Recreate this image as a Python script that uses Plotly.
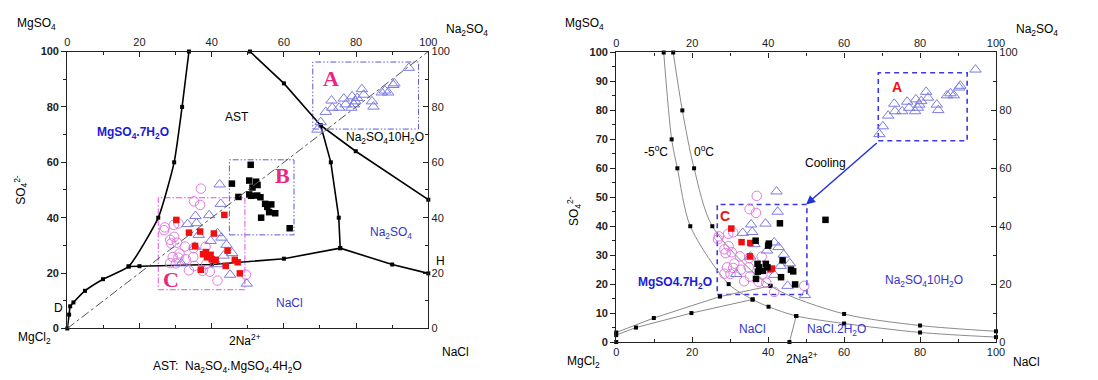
import plotly.graph_objects as go

W, H = 1098, 380

# ---------------- data ----------------
# left diagram phase boundaries
L1_x = [33.7, 31.8, 29.6, 25.2, 17.0, 9.9, 4.9, 1.7, 0.8, 0.5, 0.0]
L1_y = [100, 80, 60, 40, 22.4, 17.8, 13.6, 9.4, 8.0, 5.0, 0.0]
L2_x = [17.0, 20, 40, 60, 75.6, 90, 100]
L2_y = [22.4, 22.5, 23.1, 25.2, 29.0, 23.1, 19.9]
L3_x = [75.6, 75.2, 73.0, 70.2]
L3_y = [29.0, 40, 60, 73.3]
L4_x = [50.6, 60, 70.2, 79.9, 100]
L4_y = [100, 88.5, 73.3, 64.0, 46.5]
diag_x = [0, 100]
diag_y = [0, 100]

# right diagram isotherms / boundaries
R1_x = [12.5, 14.6, 16.1, 19.5, 29.6, 35.9, 40.1, 47.4, 60, 80, 100]   # -5 C
R1_y = [100, 70, 60, 40, 20, 14.7, 12.2, 9.0, 6.4, 3.3, 1.7]
R2_x = [15.0, 17.4, 20.5, 25.3, 40.6, 60, 80, 100]                     # 0 C
R2_y = [100, 80, 60, 40, 19.4, 9.7, 5.7, 3.7]
R3_x = [0, 9.9, 27.3, 40.6]
R3_y = [3.3, 8.3, 15.7, 19.4]
R4_x = [0, 5.2, 19.8, 35.9]
R4_y = [2.4, 5.0, 10.0, 14.7]
R5_x = [47.4, 45.6]
R5_y = [9.0, 0.0]
R0_x = [0]
R0_y = [0]

# sample points (shared between both diagrams)
tri_x = [69.3, 70.2, 71.6, 73.2, 73.4, 75.3, 76.6, 77.1, 78.7, 78.9, 79.4, 79.8, 80.3, 81.6,
         82.1, 84.4, 84.8, 87.1, 88.0, 88.9, 90.3, 90.6, 94.6,
         42.2, 42.5, 35.5, 39.3, 33.3, 35.8, 36.4, 41.6, 42.7, 44.1, 35.3, 39.7, 45.7,
         43.3, 41.6, 31.6, 45.1, 49.7]
tri_y = [71.8, 74.5, 78.2, 82.3, 79.7, 79.7, 83.0, 80.9, 79.7, 83.8, 80.9, 82.0, 83.2, 86.4,
         84.4, 82.0, 80.1, 85.2, 85.9, 85.2, 87.9, 88.5, 94.1,
         52.0, 45.0, 40.6, 40.9, 37.7, 38.0, 33.8, 34.4, 32.8, 30.2, 29.5, 31.6, 27.2,
         26.3, 23.2, 23.5, 19.4, 16.2]
cir_x = [37.0, 35.1, 36.8, 27.0, 26.8, 29.5, 30.8, 28.5, 29.6, 28.8, 30.4, 32.6, 35.0, 38.3,
         31.1, 29.2, 30.8, 32.8, 34.9, 28.5, 30.1, 33.7, 35.2, 38.5, 37.5, 39.5, 41.6, 49.5]
cir_y = [50.5, 45.9, 44.6, 36.5, 35.5, 37.4, 37.9, 32.0, 33.1, 30.7, 31.0, 29.6, 29.0, 29.5,
         27.1, 25.8, 25.6, 25.0, 25.8, 23.6, 23.5, 21.0, 22.6, 23.3, 20.8, 20.5, 17.3, 19.4]

# left diagram squares
redL_x = [30.2, 43.5, 33.7, 36.8, 40.6, 35.4, 37.6, 38.4, 39.7, 38.7, 40.0, 41.1, 44.4,
          46.4, 47.2, 43.9, 37.0, 47.8]
redL_y = [39.2, 41.0, 34.6, 35.0, 34.3, 29.8, 26.8, 27.6, 26.6, 25.7, 25.0, 24.8, 28.1,
          24.8, 23.9, 22.6, 21.2, 19.9]
blkL_x = [50.8, 45.6, 50.4, 52.3, 52.7, 51.3, 47.4, 50.4, 50.9, 52.6, 53.5, 54.8, 56.5,
          55.4, 55.9, 57.6, 53.7, 61.6]
blkL_y = [59.1, 52.3, 53.4, 53.0, 51.8, 50.9, 47.5, 48.4, 47.9, 48.0, 47.4, 45.0, 44.8,
          43.9, 42.0, 41.6, 40.0, 36.2]

# right diagram squares
redR_x = [30.3, 33.0, 35.3, 35.2, 40.6, 41.0]
redR_y = [39.2, 34.5, 34.2, 29.6, 25.1, 25.4]
blkR_x = [43.1, 36.7, 40.2, 40.0, 37.2, 37.6, 39.4, 39.8, 37.3, 38.6, 43.8, 46.0, 46.6,
          43.4, 36.8, 47.1, 55.1]
blkR_y = [41.0, 35.0, 34.0, 33.3, 27.0, 25.8, 27.0, 25.8, 24.3, 24.6, 28.2, 25.0, 24.4,
          22.4, 21.8, 19.9, 42.2]

# ---------------- styles ----------------
SANS = "Liberation Sans, Arial, sans-serif"
SERIF = "Liberation Serif, Times New Roman, serif"
TRI_C = "#7b7be0"
CIR_C = "#e07be0"
RED_C = "#f01010"

fig = go.Figure()


def curve(x, y, xa, ya, color, width, shape="linear", smooth=None):
    line = dict(color=color, width=width, shape=shape)
    if smooth is not None:
        line["smoothing"] = smooth
    fig.add_trace(go.Scatter(x=x, y=y, xaxis=xa, yaxis=ya, mode="lines+markers",
                             line=line, cliponaxis=False,
                             marker=dict(symbol="square", size=4, color="black"),
                             hoverinfo="skip", showlegend=False))


def pts(x, y, xa, ya, symbol, color, size, filled):
    if filled:
        mk = dict(symbol=symbol, size=size, color=color, line=dict(width=0))
    else:
        mk = dict(symbol=symbol + "-open", size=size, color=color, line=dict(width=1))
    fig.add_trace(go.Scatter(x=x, y=y, xaxis=xa, yaxis=ya, mode="markers", marker=mk,
                             cliponaxis=False, showlegend=False))


# left diagram (diagonal drawn on the top/right axis pair so those axes render)
fig.add_trace(go.Scatter(x=diag_x, y=diag_y, xaxis="x2", yaxis="y2", mode="lines",
                         line=dict(color="#555555", width=1, dash="dashdot"), showlegend=False))
curve(L1_x, L1_y, "x", "y", "black", 1.6, "spline", 0.5)
curve(L2_x, L2_y, "x", "y", "black", 1.6)
curve(L3_x, L3_y, "x", "y", "black", 1.6)
curve(L4_x, L4_y, "x", "y", "black", 1.6)
pts(cir_x, cir_y, "x", "y", "circle", CIR_C, 9.5, False)
pts(tri_x, tri_y, "x", "y", "triangle-up", TRI_C, 10, False)
pts(redL_x, redL_y, "x", "y", "square", RED_C, 6.5, True)
pts(blkL_x, blkL_y, "x", "y", "square", "black", 6.5, True)

# right diagram
GRAY = "#8a8a8a"
curve(R1_x, R1_y, "x3", "y3", GRAY, 1, "spline", 0.8)
curve(R2_x, R2_y, "x3", "y3", GRAY, 1, "spline", 0.8)
curve(R3_x, R3_y, "x3", "y3", GRAY, 1)
curve(R4_x, R4_y, "x3", "y3", GRAY, 1)
curve(R5_x, R5_y, "x3", "y3", GRAY, 1)
curve(R0_x, R0_y, "x4", "y4", GRAY, 1)
pts(cir_x, cir_y, "x3", "y3", "circle", CIR_C, 9.5, False)
pts(tri_x, tri_y, "x3", "y3", "triangle-up", TRI_C, 10, False)
pts(redR_x, redR_y, "x3", "y3", "square", RED_C, 6.5, True)
pts(blkR_x, blkR_y, "x3", "y3", "square", "black", 6.5, True)

# ---------------- axes ----------------
def dom_x(a, b):
    return [a / W, b / W]


def dom_y(top, bot):
    return [1 - bot / H, 1 - top / H]


tickfont = dict(family=SANS, size=11, color="#222222")
boldfont = dict(family=SANS, size=11, color="#222222", weight="bold")
common = dict(range=[0, 100], showgrid=False, zeroline=False, showline=True,
              linecolor="#222222", linewidth=1.2, tickcolor="#222222", fixedrange=True)
mn_in = dict(dtick=10, ticks="inside", ticklen=3, tickcolor="#222222")
mn_out = dict(dtick=10, ticks="outside", ticklen=3, tickcolor="#222222")

fig.update_layout(
    xaxis=dict(domain=dom_x(65, 430), anchor="y", side="bottom", ticks="inside", ticklen=5,
               dtick=20, tick0=0, showticklabels=False, minor=mn_in, **common),
    xaxis2=dict(overlaying="x", anchor="y", side="top", ticks="inside", ticklen=5,
                dtick=20, tick0=0, showticklabels=True, tickfont=tickfont, minor=mn_in, **common),
    yaxis=dict(domain=dom_y(47, 333), anchor="x", side="left", ticks="outside", ticklen=5,
               dtick=20, tick0=0, tickfont=boldfont, minor=mn_out, **common),
    yaxis2=dict(overlaying="y", anchor="x", side="right", ticks="inside", ticklen=5,
                dtick=20, tick0=0, tickfont=tickfont, minor=mn_in, **common),
    xaxis3=dict(domain=dom_x(620, 1004), anchor="y3", side="bottom", ticks="inside", ticklen=5,
                dtick=20, tick0=0, tickfont=tickfont, minor=mn_in, **common),
    xaxis4=dict(overlaying="x3", anchor="y3", side="top", ticks="inside", ticklen=5,
                dtick=20, tick0=0, tickfont=tickfont, minor=mn_in, **common),
    yaxis3=dict(domain=dom_y(48, 347), anchor="x3", side="left", ticks="outside", ticklen=5,
                dtick=10, tick0=0, tickfont=boldfont,
                minor=dict(dtick=5, ticks="outside", ticklen=3, tickcolor="#222222"), **common),
    yaxis4=dict(overlaying="y3", anchor="x3", side="right", ticks="inside", ticklen=5,
                dtick=20, tick0=0, tickfont=tickfont, minor=mn_in, **common),
    width=W, height=H, margin=dict(l=0, r=0, t=0, b=0),
    paper_bgcolor="white", plot_bgcolor="white", showlegend=False,
)

# ---------------- boxes ----------------
shapes = []


def box(xr, yr, x0, x1, y0, y1, color, dash, width):
    shapes.append(dict(type="rect", xref=xr, yref=yr, x0=x0, x1=x1, y0=y0, y1=y1,
                       line=dict(color=color, width=width, dash=dash), layer="below"))


DDD = "6px,2px,1.5px,2px,1.5px,2px"
box("x", "y", 68.0, 97.3, 72.0, 96.2, "#5a5ad0", DDD, 1)
box("x", "y", 44.9, 62.8, 33.8, 60.9, "#5a5ad0", DDD, 1)
box("x", "y", 25.2, 49.2, 14.0, 47.2, "#e055e0", "6px,2px,1.5px,2px", 1)
box("x3", "y3", 69.0, 92.4, 69.5, 93.0, "#3a3ae0", "5px,4px", 1.6)
box("x3", "y3", 26.6, 50.2, 16.4, 47.5, "#3a3ae0", "5px,4px", 1.6)
fig.update_layout(shapes=shapes)

# ---------------- annotations ----------------
ann = []


def dtext(t, x, y, xr, yr, size=12, color="black", family=SANS, bold=False):
    f = dict(family=family, size=size, color=color)
    if bold:
        f["weight"] = "bold"
    ann.append(dict(text=t, x=x, y=y, xref=xr, yref=yr, showarrow=False, font=f,
                    xanchor="center", yanchor="middle"))


def ptext(t, px, py, size=12, color="black", angle=0):
    ann.append(dict(text=t, x=px / W, y=1 - py / H, xref="paper", yref="paper",
                    showarrow=False, textangle=angle, xanchor="center", yanchor="middle",
                    font=dict(family=SANS, size=size, color=color)))


PINK = "#e8287e"
# left diagram labels
dtext("A", 73.0, 90.3, "x", "y", 22, PINK, SERIF, True)
dtext("B", 59.6, 55.4, "x", "y", 22, PINK, SERIF, True)
dtext("C", 28.7, 17.6, "x", "y", 22, PINK, SERIF, True)
dtext("AST", 47.0, 76.3, "x", "y", 12)
dtext("MgSO<sub>4</sub>.7H<sub>2</sub>O", 18.1, 70.6, "x", "y", 12, "#1a1ad8", SANS, True)
dtext("Na<sub>2</sub>SO<sub>4</sub>10H<sub>2</sub>O", 88.0, 68.7, "x", "y", 12)
dtext("Na<sub>2</sub>SO<sub>4</sub>", 89.7, 34.5, "x", "y", 12, "#3333cc")
dtext("NaCl", 61.6, 9.3, "x", "y", 12, "#3333cc")
ptext("H", 442, 263, 12)
ptext("D", 56, 312, 12)
ptext("MgSO<sub>4</sub>", 34, 19, 12)
ptext("Na<sub>2</sub>SO<sub>4</sub>", 469, 25, 12)
ptext("MgCl<sub>2</sub>", 32, 343, 12)
ptext("2Na<sup>2+</sup>", 245, 345, 12)
ptext("NaCl", 458, 357, 12)
ptext("AST:  Na<sub>2</sub>SO<sub>4</sub>.MgSO<sub>4</sub>.4H<sub>2</sub>O", 227, 373, 12)
ptext("SO<sub>4</sub><sup>2-</sup>", 18, 190, 12, angle=-90)

# right diagram labels
dtext("A", 74.0, 88.0, "x3", "y3", 14, RED_C, SANS, True)
dtext("C", 28.6, 43.5, "x3", "y3", 14, RED_C, SANS, True)
dtext("-5<sup>o</sup>C", 10.4, 66.0, "x3", "y3", 12)
dtext("0<sup>o</sup>C", 23.0, 66.0, "x3", "y3", 12)
dtext("Cooling", 55.0, 62.0, "x3", "y3", 12)
dtext("MgSO4.7H<sub>2</sub>O", 15.6, 20.4, "x3", "y3", 12, "#1a1ad8", SANS, True)
dtext("NaCl", 36.0, 4.5, "x3", "y3", 12, "#3333cc")
dtext("NaCl.2H<sub>2</sub>O", 58.0, 4.3, "x3", "y3", 12, "#3333cc")
dtext("Na<sub>2</sub>SO<sub>4</sub>10H<sub>2</sub>O", 81.0, 21.0, "x3", "y3", 12, "#3333cc")
ptext("MgSO<sub>4</sub>", 588, 19, 12)
ptext("Na<sub>2</sub>SO<sub>4</sub>", 1045, 25, 12)
ptext("MgCl<sub>2</sub>", 587, 368, 12)
ptext("2Na<sup>2+</sup>", 808, 363, 12)
ptext("NaCl", 1035, 368, 12)
ptext("SO<sub>4</sub><sup>2-</sup>", 578, 212, 12, angle=-90)

# cooling arrow
ann.append(dict(x=50.0, y=47.5, ax=69.0, ay=69.2, xref="x3", yref="y3", axref="x3", ayref="y3",
                showarrow=True, arrowhead=2, arrowsize=1.2, arrowwidth=1.5,
                arrowcolor="#2233dd", text=""))

fig.update_layout(annotations=ann)
fig.write_html("out.html", config={"responsive": False, "displayModeBar": False},
               post_script="document.body.style.margin='0';document.body.style.overflow='hidden';")
